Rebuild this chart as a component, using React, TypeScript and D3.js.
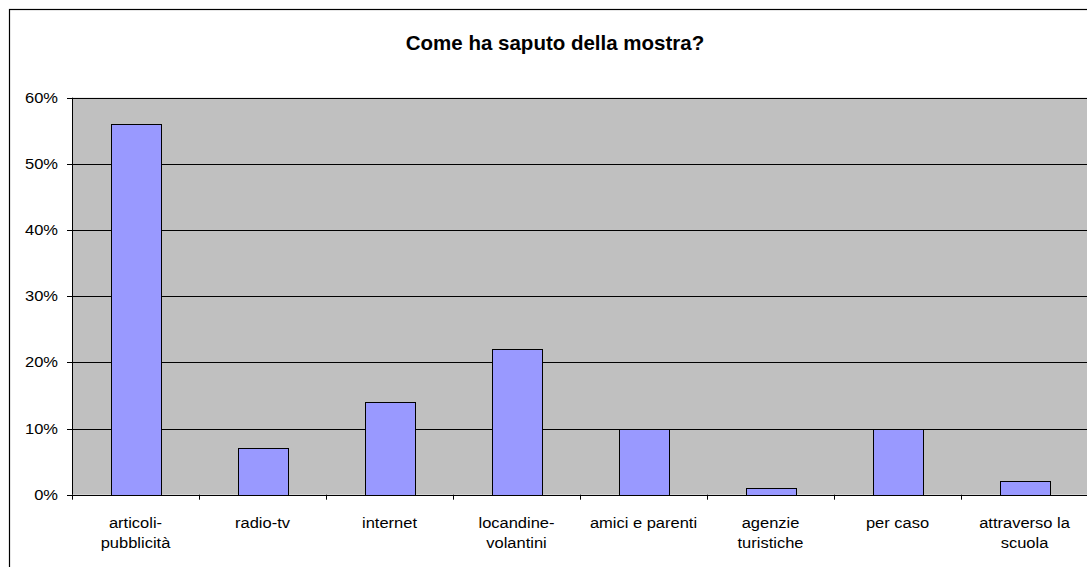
import React from "react";
import * as d3 from "d3";

const categories: string[][] = [
  ["articoli-", "pubblicità"],
  ["radio-tv"],
  ["internet"],
  ["locandine-", "volantini"],
  ["amici e parenti"],
  ["agenzie", "turistiche"],
  ["per caso"],
  ["attraverso la", "scuola"],
];
const values: number[] = [0.56, 0.07, 0.14, 0.22, 0.1, 0.01, 0.1, 0.02];
const yTicks: number[] = [0, 0.1, 0.2, 0.3, 0.4, 0.5, 0.6];
const title = "Come ha saputo della mostra?";

const W = 1087;
const H = 567;
const plot = { left: 72, right: 1088, top: 97.7, bottom: 494.7 };
const FONT = "'Liberation Sans', Arial, sans-serif";
const SX = 1.1;

export default function App() {
  const keys = categories.map((c) => c.join(" "));
  const x = d3.scaleBand<string>().domain(keys).range([plot.left, plot.right]).padding(0);
  const y = d3.scaleLinear().domain([0, 0.6]).range([plot.bottom, plot.top]);
  const bw = x.bandwidth() * (50 / 127);
  const fmt = d3.format(".0%");

  return (
    <div style={{ position: "fixed", left: 0, top: 0, width: W, height: H, overflow: "hidden", background: "#fff" }}>
      <svg width={W} height={H} style={{ display: "block" }}>
        <rect x={9.5} y={9.5} width={1200} height={700} fill="#fff" stroke="#000" strokeWidth={1.2} />
        <text
          transform={`translate(555,50) scale(1.0,1)`}
          textAnchor="middle"
          fontFamily={FONT}
          fontWeight="bold"
          fontSize={20.5}
          fill="#000"
        >
          {title}
        </text>
        <rect x={plot.left} y={plot.top} width={plot.right - plot.left} height={plot.bottom - plot.top} fill="#C0C0C0" />
        {yTicks.slice(1).map((t) => (
          <line key={t} x1={plot.left} x2={plot.right} y1={Math.round(y(t)) + 0.5} y2={Math.round(y(t)) + 0.5} stroke="#000" strokeWidth={1} />
        ))}
        {values.map((v, i) => {
          const cx = (x(keys[i]) as number) + x.bandwidth() / 2;
          return (
            <rect
              key={i}
              x={Math.round(cx - bw / 2) + 0.5}
              y={Math.round(y(v)) + 0.5}
              width={Math.round(bw)}
              height={Math.round(y(0)) - Math.round(y(v))}
              fill="#9999FF"
              stroke="#000"
              strokeWidth={1}
            />
          );
        })}
        {/* axes */}
        <line x1={plot.left + 0.5} x2={plot.left + 0.5} y1={plot.top} y2={plot.bottom} stroke="#000" />
        <line x1={plot.left} x2={plot.right} y1={Math.round(plot.bottom) + 0.5} y2={Math.round(plot.bottom) + 0.5} stroke="#000" />
        {yTicks.map((t) => (
          <g key={t}>
            <line x1={plot.left - 5} x2={plot.left} y1={Math.round(y(t)) + 0.5} y2={Math.round(y(t)) + 0.5} stroke="#000" />
            <text
              transform={`translate(58,${y(t) + 5}) scale(${SX},1)`}
              textAnchor="end"
              fontFamily={FONT}
              fontSize={15}
              fill="#000"
            >
              {fmt(t)}
            </text>
          </g>
        ))}
        {keys.map((k, i) => {
          const x0 = x(k) as number;
          return (
            <line key={"t" + i} x1={Math.round(x0) + 0.5} x2={Math.round(x0) + 0.5} y1={plot.bottom} y2={plot.bottom + 5} stroke="#000" />
          );
        })}
        {categories.map((lines, i) => {
          const cx = (x(keys[i]) as number) + x.bandwidth() / 2;
          return lines.map((ln, j) => (
            <text
              key={i + "-" + j}
              transform={`translate(${cx},${528 + j * 20}) scale(${SX},1)`}
              textAnchor="middle"
              fontFamily={FONT}
              fontSize={15}
              fill="#000"
            >
              {ln}
            </text>
          ));
        })}
      </svg>
    </div>
  );
}
